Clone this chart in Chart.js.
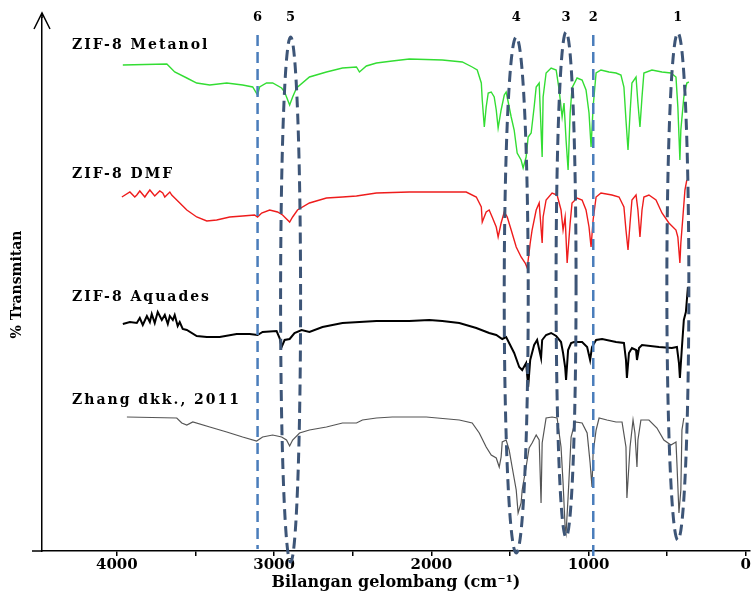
<!DOCTYPE html>
<html>
<head>
<meta charset="utf-8">
<title>FTIR ZIF-8</title>
<script src="https://cdn.jsdelivr.net/npm/chart.js@4.4.0/dist/chart.umd.min.js"></script>
<style>
  html, body { margin: 0; padding: 0; background: #fff; }
  #wrap { width: 751px; height: 593px; position: relative; }
</style>
</head>
<body>
<div id="wrap"><canvas id="ftirChart"></canvas></div>
<script>
// --- Spectra: [wavenumber cm-1, % transmittance (stacked offset)] ---
const metanol = [
    [3962,97.2],[3682,97.4],[3632,95.8],[3555,94.6],[3492,93.6],[3409,93.2],[3301,93.6],[3200,93.2],
    [3136,92.8],[3105,91.2],[3092,92.8],[3048,93.6],[3009,93.6],[2952,92.6],[2933,91.8],[2901,89.2],
    [2882,90.8],[2857,92.6],[2775,94.8],[2667,95.8],[2565,96.6],[2476,96.8],[2457,95.8],[2413,97],
    [2349,97.6],[2248,98],[2140,98.4],[1930,98.2],[1803,97.8],[1740,96.8],[1708,96.2],[1682,93.6],
    [1676,90.2],[1663,84.8],[1651,88.8],[1638,91.6],[1619,91.8],[1600,90.8],[1587,88.2],[1575,84.6],
    [1556,88.2],[1536,91.2],[1524,91.8],[1511,89.8],[1492,86.8],[1473,84.2],[1454,79.6],[1429,78.2],
    [1416,76.6],[1397,78.8],[1384,82.8],[1365,83.6],[1346,88.8],[1333,92.8],[1314,93.6],[1295,78.8],
    [1289,90.8],[1270,95.6],[1238,96.6],[1206,96.2],[1187,92.2],[1168,86.8],[1156,89.6],[1143,82.2],
    [1130,76.2],[1117,87.6],[1105,92.6],[1073,94.6],[1041,94.2],[1016,92.2],[997,87.6],[984,80.8],
    [971,88.8],[952,95.6],[921,96.2],[870,95.8],[825,95.6],[794,95.2],[775,92.8],[762,86.2],
    [749,80.2],[736,87.6],[724,93.6],[698,94.8],[686,89.6],[673,84.8],[660,90.8],[648,95.6],
    [597,96.2],[533,95.8],[476,95.6],[444,94.8],[432,88.8],[419,78.2],[413,84.2],[394,90.8],
    [375,93.6],[362,93.8]
];

const dmf = [
    [3968,70.8],[3917,71.8],[3886,70.8],[3873,71.2],[3854,72],[3822,70.8],[3809,71.4],[3790,72.2],
    [3759,71],[3727,72],[3708,71.6],[3695,70.8],[3663,71.8],[3651,71.2],[3619,70.2],[3555,68.2],
    [3492,66.8],[3428,66],[3365,66.2],[3282,66.8],[3200,67],[3124,67.2],[3105,66.8],[3079,67.6],
    [3028,68.2],[2978,67.8],[2946,67.2],[2901,65.8],[2882,66.8],[2851,68.2],[2775,69.6],[2667,70.6],
    [2565,70.8],[2476,71],[2349,71.6],[2140,71.8],[1930,71.8],[1778,71.8],[1714,70.8],[1682,68.8],
    [1676,65.8],[1651,67.8],[1632,68.2],[1613,66.8],[1587,64.8],[1575,62.8],[1556,65.6],[1536,67.8],
    [1517,66.8],[1492,64.2],[1460,60.8],[1429,58.8],[1403,57.6],[1390,56.6],[1371,61.6],[1359,64.2],
    [1333,68.2],[1314,69.6],[1295,61.6],[1289,66.8],[1270,70.2],[1232,71.6],[1200,71.2],[1175,68.2],
    [1162,64.2],[1149,66.8],[1136,57.6],[1117,65.6],[1105,69.6],[1073,70.6],[1041,70.2],[1016,68.2],
    [997,64.8],[984,60.8],[971,66.2],[952,70.8],[921,71.6],[851,71.2],[806,70.8],[775,68.8],
    [762,64.2],[749,60.2],[736,65.6],[724,70.2],[698,71.2],[686,68.2],[673,62.8],[660,68.2],
    [648,70.8],[616,71.2],[571,70.2],[533,67.6],[489,65.6],[444,64.2],[432,62.8],[419,57.6],
    [413,61.6],[400,66.8],[387,72.2],[375,74.2]
];

const aquades = [
    [3962,45.4],[3917,45.8],[3873,45.6],[3854,46.6],[3835,45.2],[3809,47],[3790,45.8],[3778,47.4],
    [3759,45.6],[3740,47.8],[3714,46.2],[3695,47.2],[3676,45.4],[3663,47],[3644,46.2],[3632,47.2],
    [3613,45],[3600,45.8],[3581,44.4],[3555,44.2],[3492,43],[3428,42.8],[3346,42.8],[3238,43.4],
    [3155,43.4],[3105,43.2],[3073,43.8],[2984,44],[2965,42.6],[2952,40.8],[2933,42.2],[2901,42.4],
    [2870,43.6],[2825,44.2],[2775,43.8],[2692,44.8],[2565,45.6],[2349,46],[2140,46],[2013,46.2],
    [1930,46],[1822,45.6],[1714,44.6],[1632,43.6],[1587,43.2],[1549,42.4],[1524,42.8],[1505,41.6],
    [1473,39.6],[1441,36.8],[1422,36.2],[1397,37.6],[1384,32.8],[1371,38.2],[1346,41.2],[1327,42.2],
    [1302,38.6],[1295,42.2],[1270,43.2],[1238,43.6],[1206,43],[1175,41.8],[1162,39.6],[1149,36.8],
    [1143,34.2],[1130,40.2],[1111,41.6],[1092,41.8],[1041,41.8],[1009,40.8],[990,38.2],[978,40.8],
    [952,42.2],[914,42.4],[825,41.8],[775,41.6],[762,38.2],[756,34.6],[743,39.6],[724,40.6],
    [698,40.2],[692,38.2],[679,40.6],[660,41.2],[552,40.8],[470,40.6],[438,40.8],[425,37.6],
    [419,34.6],[406,40.8],[394,46.2],[381,47.8],[368,52.8]
];

const zhang = [
    [3936,26.8],[3619,26.6],[3587,25.6],[3555,25.2],[3517,25.8],[3409,24.8],[3301,23.8],[3200,22.8],
    [3111,22],[3073,22.8],[3009,23.2],[2952,22.8],[2921,22.2],[2901,21],[2882,22.2],[2838,23.6],
    [2775,24.2],[2667,24.8],[2565,25.6],[2476,25.6],[2438,26.2],[2349,26.6],[2248,26.8],[2032,26.8],
    [1822,26.2],[1740,25.6],[1695,23.6],[1651,20.8],[1619,19.2],[1587,18.6],[1568,16.8],[1556,18.8],
    [1549,21.8],[1524,22.2],[1505,20.2],[1486,16.8],[1460,12.2],[1448,7.6],[1429,9.6],[1422,12.2],
    [1397,16.8],[1378,20.6],[1359,21.6],[1333,23.2],[1314,22.2],[1302,9.6],[1295,21.6],[1270,26.6],
    [1232,26.8],[1200,26.6],[1175,20.8],[1162,13.6],[1149,4.8],[1143,3.6],[1130,10.8],[1111,22.8],
    [1086,25.8],[1041,25.6],[1009,23.6],[990,17.6],[978,12.8],[971,19.6],[952,24.2],[933,26.6],
    [883,26.2],[825,25.8],[787,25.8],[762,20.8],[756,10.6],[736,20.8],[717,26.2],[705,23.6],
    [692,16.8],[686,22.2],[667,26.2],[616,26.2],[565,24.6],[521,22.2],[476,21.2],[444,21.8],
    [438,17.6],[425,7.6],[413,12.2],[406,24.2],[394,26.6]
];

const seriesNames = ['ZIF-8 Metanol', 'ZIF-8 DMF', 'ZIF-8 Aquades', 'Zhang dkk., 2011'];
const tickValues = [4000, 3500, 3000, 2500, 2000, 1500, 1000, 500, 0];
const bandLabels = ['6', '5', '4', '3', '2', '1'];
const bandWn = [3105, 2895, 1460, 1143, 970, 432];

const FONT = '"DejaVu Serif", "Liberation Serif", serif';

// dashed band markers: plain line or tall ellipse (extent in y units)
const bandShapes = [
    { kind: 'line', top: 103.2, bottom: 0.4 },
    { kind: 'ellipse', top: 102.8, bottom: -2.2, rx: 10 },
    { kind: 'ellipse', top: 102.8, bottom: -0.4, rx: 12 },
    { kind: 'ellipse', top: 103.8, bottom: 2.8, rx: 10 },
    { kind: 'line', top: 103.2, bottom: -1.8 },
    { kind: 'ellipse', top: 103.6, bottom: 2.2, rx: 11 }
];
const nameY = [45, 174, 297, 400];

const overlay = {
    id: 'overlay',
    afterDatasetsDraw(chart) {
        const { ctx, scales: { x, y } } = chart;
        ctx.save();
        bandWn.forEach((wn, i) => {
            const b = bandShapes[i];
            const cx = x.getPixelForValue(wn);
            const top = y.getPixelForValue(b.top);
            const bottom = y.getPixelForValue(b.bottom);
            ctx.setLineDash([11, 6]);
            ctx.beginPath();
            if (b.kind === 'line') {
                ctx.strokeStyle = '#4a7dbb';
                ctx.lineWidth = 2.5;
                ctx.moveTo(cx, top);
                ctx.lineTo(cx, bottom);
            } else {
                ctx.strokeStyle = '#3d5577';
                ctx.lineWidth = 3;
                ctx.ellipse(cx, (top + bottom) / 2, b.rx, (bottom - top) / 2, 0, 0, Math.PI * 2);
            }
            ctx.stroke();
        });
        ctx.setLineDash([]);

        // band numbers
        ctx.fillStyle = '#000';
        ctx.font = 'bold 13px ' + FONT;
        ctx.textAlign = 'center';
        ctx.textBaseline = 'middle';
        bandLabels.forEach((t, i) => {
            ctx.fillText(t, x.getPixelForValue(bandWn[i]), y.top);
        });

        // series names
        ctx.font = 'bold 14px ' + FONT;
        ctx.textAlign = 'left';
        ctx.letterSpacing = '2px';
        seriesNames.forEach((t, i) => ctx.fillText(t, 72, nameY[i]));
        ctx.restore();
    },
    afterDraw(chart) {
        const { ctx, chartArea } = chart;
        ctx.save();
        ctx.strokeStyle = '#000';
        ctx.lineWidth = 1.5;
        ctx.beginPath();
        // arrow on y axis
        ctx.moveTo(chartArea.left, chartArea.top);
        ctx.lineTo(chartArea.left, chartArea.top - 5);
        ctx.moveTo(chartArea.left - 8, chartArea.top + 11);
        ctx.lineTo(chartArea.left, chartArea.top - 5);
        ctx.lineTo(chartArea.left + 8, chartArea.top + 11);
        // x axis runs a little past the y axis
        ctx.moveTo(chartArea.left - 10, chartArea.bottom);
        ctx.lineTo(chartArea.left, chartArea.bottom);
        ctx.stroke();
        ctx.restore();
    }
};

const toXY = (arr) => arr.map(p => ({ x: p[0], y: p[1] }));

const colors = ['#33dd33', '#ee1c1c', '#000000', '#555555'];
const widths = [1.4, 1.4, 2, 1.2];

new Chart(document.getElementById('ftirChart'), {
    type: 'line',
    data: {
        datasets: [metanol, dmf, aquades, zhang].map((s, i) => ({
            label: seriesNames[i],
            data: toXY(s),
            borderColor: colors[i],
            borderWidth: widths[i],
            pointRadius: 0,
            tension: 0,
            fill: false
        }))
    },
    options: {
        responsive: true,
        maintainAspectRatio: false,
        animation: false,
        layout: { padding: { top: 18, right: 0, left: 0, bottom: 0 } },
        plugins: {
            legend: { display: false },
            tooltip: { enabled: false }
        },
        scales: {
            x: {
                type: 'linear',
                reverse: true,
                min: -25,
                max: 4476,
                afterBuildTicks: (axis) => { axis.ticks = tickValues.map(v => ({ value: v })); },
                afterFit: (axis) => { axis.height = 42; },
                grid: { drawOnChartArea: false, drawTicks: true, tickLength: 5, color: '#000', lineWidth: 1.5 },
                border: { display: true, color: '#000', width: 1.5 },
                ticks: {
                    autoSkip: false,
                    maxRotation: 0,
                    minRotation: 0,
                    padding: 0,
                    color: '#000',
                    font: { family: FONT, size: 15, weight: 'bold' },
                    callback: (v) => (v % 1000 === 0 ? String(v) : '')
                },
                title: {
                    display: true,
                    text: 'Bilangan gelombang (cm\u207B\u00B9)',
                    color: '#000',
                    font: { family: FONT, size: 16, weight: 'bold' },
                    padding: { top: 1, bottom: 1 }
                }
            },
            y: {
                min: 0,
                max: 106.6,
                afterFit: (axis) => { axis.width = 42; },
                grid: { display: false },
                border: { display: true, color: '#000', width: 1.5 },
                ticks: { display: false },
                title: {
                    display: true,
                    text: '% Transmitan',
                    color: '#000',
                    font: { family: FONT, size: 14, weight: 'bold' },
                    padding: { top: 9, bottom: 9 }
                }
            }
        }
    },
    plugins: [overlay]
});
</script>
</body>
</html>
